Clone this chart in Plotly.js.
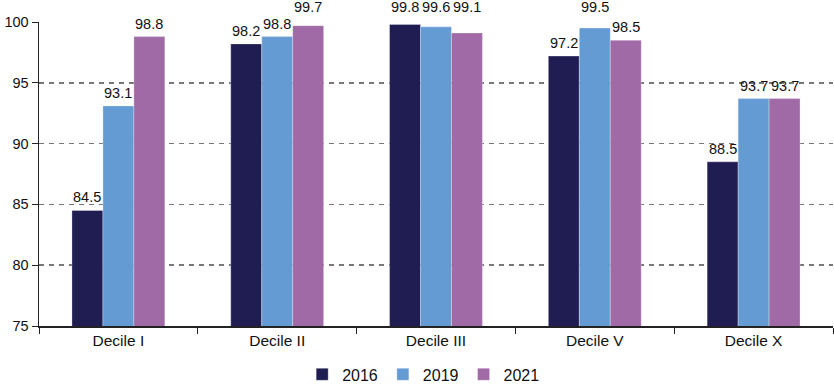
<!DOCTYPE html>
<html>
<head>
<meta charset="utf-8">
<script src="https://cdn.plot.ly/plotly-3.0.1.min.js"></script>
<style>
  html, body { margin: 0; padding: 0; background: #fff; }
  #chart { width: 834px; height: 384px; }
</style>
</head>
<body>
<div id="chart"></div>
<script>
// Share of households per income decile, by survey year (%)
const categories = ["Decile I", "Decile II", "Decile III", "Decile V", "Decile X"];
const years = ["2016", "2019", "2021"];
const values2016 = [84.5, 98.2, 99.8, 97.2, 88.5];
const values2019 = [93.1, 98.8, 99.6, 99.5, 93.7];
const values2021 = [98.8, 99.7, 99.1, 98.5, 93.7];
const yTicks = [75, 80, 85, 90, 95, 100];

const colors = ["#1f1d52", "#659bd3", "#a06aa6"];
const series = [values2016, values2019, values2021];

const font = "Liberation Sans, Arial, sans-serif";
const yMax = 100;
const bargap = 0.415;
const barWidth = (1 - bargap) / series.length;   // in category units

const traces = series.map((vals, i) => ({
  type: "bar",
  name: years[i],
  x: categories,
  y: vals,
  marker: { color: colors[i], line: { color: "rgba(255,255,255,0.6)", width: 0.5 } },
  hoverinfo: "skip"
}));

// Value labels above each bar; labels that would run past the top
// of the axis sit on one common line just above it.
const annotations = [];
series.forEach((vals, i) => {
  vals.forEach((v, j) => {
    const nearTop = v > yMax - 1;
    annotations.push({
      xref: "x", yref: "y",
      x: j + (i - (series.length - 1) / 2) * barWidth,
      y: nearTop ? yMax : v,
      yanchor: "bottom",
      yshift: nearTop ? 5 : 3,
      text: v.toFixed(1),
      showarrow: false,
      font: { family: font, size: 14.5, color: "#111" }
    });
  });
});

const layout = {
  width: 834,
  height: 384,
  margin: { l: 39, r: 1, t: 22, b: 58 },
  paper_bgcolor: "#fff",
  plot_bgcolor: "#fff",
  font: { family: font, size: 14, color: "#111" },
  barmode: "group",
  bargap: bargap,
  bargroupgap: 0,
  showlegend: true,
  legend: {
    orientation: "h",
    x: 0.508, xanchor: "center",
    xref: "container",
    y: 0.025, yanchor: "middle",
    yref: "container",
    font: { family: font, size: 16, color: "#111" },
    itemwidth: 30,
    traceorder: "normal"
  },
  annotations: annotations,
  xaxis: {
    type: "category",
    tickson: "boundaries",
    ticks: "outside",
    ticklen: 6,
    tickcolor: "#222",
    showline: true,
    linecolor: "#222",
    linewidth: 1.5,
    showgrid: false,
    tickfont: { family: font, size: 15.5, color: "#111" }
  },
  yaxis: {
    range: [75, yMax],
    tickvals: yTicks,
    ticks: "outside",
    ticklen: 6,
    tickcolor: "#222",
    showline: true,
    linecolor: "#222",
    linewidth: 1.5,
    showgrid: true,
    gridcolor: "#777",
    griddash: "5px,5px",
    gridwidth: 1.5,
    zeroline: false,
    tickfont: { family: font, size: 14.5, color: "#111" }
  }
};

Plotly.newPlot("chart", traces, layout, { staticPlot: true, displayModeBar: false });
</script>
</body>
</html>
